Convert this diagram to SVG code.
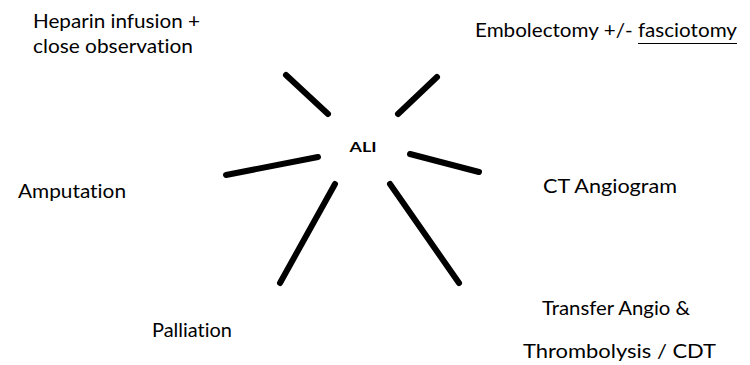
<svg xmlns="http://www.w3.org/2000/svg" width="750" height="365" viewBox="0 0 750 365">
<style>
.t{font-family:"Lato","Open Sans","Liberation Sans",sans-serif;font-size:20px;fill:#000;font-variant-ligatures:none;font-feature-settings:"liga" 0,"clig" 0}
.c{font-family:"Lato","Liberation Sans",sans-serif;font-size:13px;font-weight:bold;fill:#000}
.ln{stroke:#000;stroke-width:6;stroke-linecap:round;fill:none}
</style>
<rect width="750" height="365" fill="#fff"/>
<g id="connectors">
<line class="ln" x1="286" y1="75" x2="328" y2="114"/>
<line class="ln" x1="437" y1="77" x2="398" y2="114"/>
<line class="ln" x1="410" y1="154" x2="479" y2="172"/>
<line class="ln" x1="226" y1="175" x2="318" y2="157"/>
<line class="ln" x1="335" y1="184" x2="280" y2="283"/>
<line class="ln" x1="390" y1="184" x2="459" y2="283"/>
</g>
<g id="ali"><text class="c" x="363" y="152" text-anchor="middle" textLength="27" lengthAdjust="spacingAndGlyphs">ALI</text></g>
<g id="heparin">
<text class="t" x="33" y="28" textLength="167" lengthAdjust="spacingAndGlyphs">Heparin infusion +</text>
<text class="t" x="33" y="53" textLength="160" lengthAdjust="spacingAndGlyphs">close observation</text>
</g>
<g id="embolectomy">
<text class="t" x="475" y="37" textLength="262" lengthAdjust="spacingAndGlyphs">Embolectomy +/- fasciotomy</text>
<line x1="638" y1="43.5" x2="737" y2="43.5" stroke="#000" stroke-width="1.2"/>
</g>
<g id="ct"><text class="t" x="543" y="193" textLength="134" lengthAdjust="spacingAndGlyphs">CT Angiogram</text></g>
<g id="amputation"><text class="t" x="18" y="198" textLength="108" lengthAdjust="spacingAndGlyphs">Amputation</text></g>
<g id="palliation"><text class="t" x="152" y="337" textLength="80" lengthAdjust="spacingAndGlyphs">Palliation</text></g>
<g id="transfer">
<text class="t" x="542" y="315" textLength="148" lengthAdjust="spacingAndGlyphs">Transfer Angio &amp;</text>
<text class="t" x="523" y="358" textLength="193" lengthAdjust="spacingAndGlyphs">Thrombolysis / CDT</text>
</g>
</svg>
